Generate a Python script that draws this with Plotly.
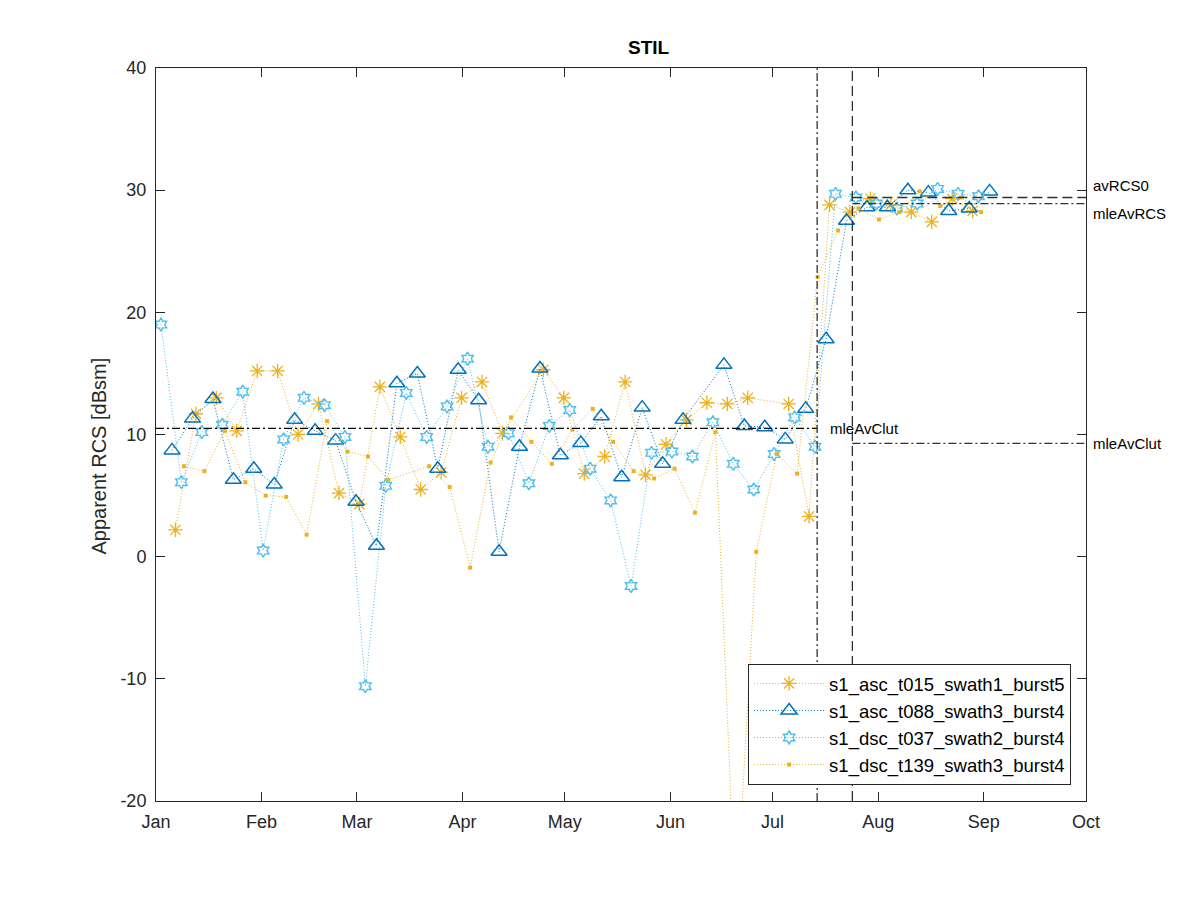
import plotly.graph_objects as go
import pandas as pd

# ---------------- data ----------------
# acquisition start (first pass) of each track; passes repeat every 6 days
t015_start = "2019-01-06 17:00"
t088_start = "2019-01-05 17:00"
t037_start = "2019-01-02 11:00"
t139_start = "2019-01-09 05:00"

# apparent RCS [dBsm]; None = no acquisition
t015_vals = [2.2, 11.7, 13.0, 10.3, 15.2, 15.2, 10.0, 12.5, 5.2, 4.3,
             13.9, 9.8, 5.5, 6.9, 13.0, 14.3, 10.1, None, 15.3, 13.0,
             6.8, 8.2, 14.3, 6.7, 9.2, 11.2, 12.6, 12.5, 13.0, None,
             12.5, 3.3, 28.8, 28.2, 29.3, 28.8, 28.2, 27.4, 29.3, 28.3]
t088_vals = [8.7, 11.3, 12.9, 6.3, 7.2, 5.9, 11.2, 10.3, 9.5, 4.5,
             0.9, 14.2, 15.0, 7.2, 15.3, 12.8, 0.4, 9.0, 15.4, 8.3,
             9.3, 11.5, 6.5, 12.2, 7.6, 11.2, None, 15.7, 10.7, 10.6,
             9.6, 12.1, 17.8, 27.5, 28.6, 28.6, 30.0, 29.8, 28.3, 28.5, 29.9]
t037_vals = [19.0, 6.1, 10.2, 10.8, 13.5, 0.5, 9.6, 13.0, 12.4, 9.8,
             -10.6, 5.8, 13.4, 9.8, 12.3, 16.2, 9.0, 10.1, 6.0, 10.7,
             12.0, 7.2, 4.6, -2.4, 8.5, 8.6, 8.2, 11.0, 7.6, 5.5,
             8.4, 11.4, 9.0, 29.7, 29.4, 28.9, 28.5, 28.9, 30.1, 29.7, 29.5]
t139_vals = [7.4, 7.0, 10.3, 6.1, 5.0, 4.9, 1.8, 11.1, 8.6, 8.2,
             6.3, None, 7.4, 5.7, -0.9, 7.7, 11.4, 9.4, 7.6, 10.4,
             12.1, 9.4, 7.0, 6.4, 7.2, 3.6, 10.2, -29.3, 0.4, 8.4,
             6.8, 22.9, 26.7, 28.5, 27.6, 28.2, 29.9, 28.7, 29.4, 28.2]

series_names = ["s1_asc_t015_swath1_burst5", "s1_asc_t088_swath3_burst4",
                "s1_dsc_t037_swath2_burst4", "s1_dsc_t139_swath3_burst4"]

# reference levels
mleAvClut_before = 10.5
mleAvClut_after = 9.28
avRCS0 = 29.4
mleAvRCS = 28.9
event_date_1 = "2019-07-14 02:00"
event_date_2 = "2019-07-24 10:00"
x_start = "2019-01-01"
x_end = "2019-10-01"
month_ticks = ["2019-%02d-01" % m for m in range(1, 11)]
month_labels = ["Jan", "Feb", "Mar", "Apr", "May", "Jun", "Jul", "Aug", "Sep", "Oct"]
y_ticks = [-20, -10, 0, 10, 20, 30, 40]

# ---------------- figure ----------------
ORANGE = "#EDB120"
BLUE = "#0072BD"
LBLUE = "#4DBEEE"
AX = "#262626"
FONT = "Liberation Sans, Arial, Helvetica, sans-serif"


def dates(start, n):
    return pd.date_range(start, periods=n, freq="6D")


fig = go.Figure()
specs = [
    (t015_start, t015_vals, ORANGE, dict(symbol="asterisk-open", size=12,
                                         line=dict(color=ORANGE, width=1.3))),
    (t088_start, t088_vals, BLUE, dict(symbol="triangle-up-open", size=14,
                                       color=BLUE, line=dict(color=BLUE, width=1.5))),
    (t037_start, t037_vals, LBLUE, dict(symbol="hexagram-open", size=10,
                                        color=LBLUE, line=dict(color=LBLUE, width=1.4))),
    (t139_start, t139_vals, ORANGE, dict(symbol="square", size=4, color=ORANGE,
                                         line=dict(width=0))),
]
for (start, vals, col, mk), name in zip(specs, series_names):
    fig.add_trace(go.Scatter(
        x=dates(start, len(vals)), y=vals, name=name, mode="lines+markers",
        connectgaps=True, line=dict(color=col, width=1, dash="1px,2px"),
        marker=mk, cliponaxis=True))

DASHDOT = "8px,3px,2px,3px"
DASH = "10px,5px"
shapes = [
    dict(type="line", xref="x", yref="y", x0=x_start, x1=event_date_1,
         y0=mleAvClut_before, y1=mleAvClut_before,
         line=dict(color="black", width=1.2, dash=DASHDOT)),
    dict(type="line", xref="x", yref="paper", x0=event_date_1, x1=event_date_1,
         y0=0, y1=1, line=dict(color="#303030", width=1.3, dash=DASHDOT)),
    dict(type="line", xref="x", yref="paper", x0=event_date_2, x1=event_date_2,
         y0=0, y1=1, line=dict(color="#303030", width=1.3, dash=DASH)),
    dict(type="line", xref="x", yref="y", x0=event_date_2, x1=x_end,
         y0=avRCS0, y1=avRCS0, line=dict(color="#303030", width=1.3, dash=DASH)),
    dict(type="line", xref="x", yref="y", x0=event_date_2, x1=x_end,
         y0=mleAvRCS, y1=mleAvRCS,
         line=dict(color="#303030", width=1.3, dash=DASHDOT)),
    dict(type="line", xref="x", yref="y", x0=event_date_2, x1=x_end,
         y0=mleAvClut_after, y1=mleAvClut_after,
         line=dict(color="#303030", width=1.3, dash=DASHDOT)),
]

annotations = [
    dict(text="mleAvClut", xref="x", yref="y", x=event_date_1, y=mleAvClut_before,
         xanchor="left", yanchor="middle", xshift=11, showarrow=False,
         font=dict(size=15, color="black")),
    dict(text="avRCS0", xref="paper", yref="y", x=1, y=avRCS0,
         xanchor="left", yanchor="bottom", xshift=5, yshift=2, showarrow=False,
         font=dict(size=15, color="black")),
    dict(text="mleAvRCS", xref="paper", yref="y", x=1, y=mleAvRCS,
         xanchor="left", yanchor="top", xshift=5, yshift=1, showarrow=False,
         font=dict(size=15, color="black")),
    dict(text="mleAvClut", xref="paper", yref="y", x=1, y=mleAvClut_after,
         xanchor="left", yanchor="middle", xshift=5, showarrow=False,
         font=dict(size=15, color="black")),
    dict(text="<b>STIL</b>", xref="paper", yref="paper", x=0.5, y=1.0,
         xanchor="center", yanchor="bottom", xshift=28, yshift=8, showarrow=False,
         font=dict(size=19, color="black")),
    dict(text="Apparent RCS [dBsm]", xref="paper", yref="paper", x=0, y=0.5,
         xanchor="center", yanchor="middle", xshift=-58, yshift=-22, textangle=-90,
         showarrow=False, font=dict(size=20, color=AX)),
]

axis_common = dict(showgrid=False, zeroline=False, showline=True, linecolor=AX,
                   linewidth=1, mirror="allticks", ticks="inside", ticklen=9,
                   tickwidth=1, tickcolor=AX, tickfont=dict(size=18, color=AX))

fig.update_layout(
    width=1200, height=900, autosize=False,
    margin=dict(l=148, r=122, t=59.5, b=107, pad=0),
    paper_bgcolor="white", plot_bgcolor="white",
    font=dict(family=FONT, color=AX),
    xaxis=dict(type="date", range=[x_start, x_end], tickmode="array",
               tickvals=month_ticks, ticktext=month_labels,
               ticklabelstandoff=4, **axis_common),
    yaxis=dict(range=[-20, 40], tickmode="array", tickvals=y_ticks,
               ticktext=[str(v) for v in y_ticks], ticklabelstandoff=5,
               **axis_common),
    shapes=shapes, annotations=annotations,
    showlegend=True,
    legend=dict(x=0.984, y=0.022, xanchor="right", yanchor="bottom",
                bgcolor="white", bordercolor=AX, borderwidth=1,
                font=dict(size=18.5, color="black"), itemwidth=70,
                tracegroupgap=0),
)

fig.write_html("out.html")
